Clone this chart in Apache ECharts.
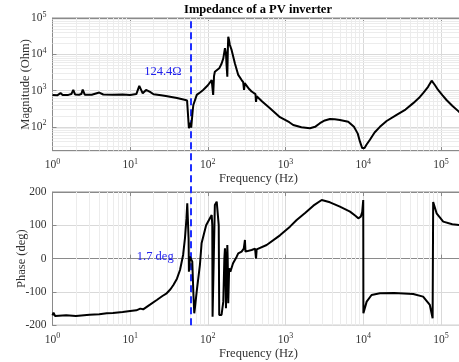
<!DOCTYPE html>
<html>
<head>
<meta charset="utf-8">
<script src="https://cdn.jsdelivr.net/npm/echarts@6/dist/echarts.min.js"></script>
<style>html,body{margin:0;padding:0;background:#fff}#c{width:459px;height:362px}</style>
</head>
<body>
<div id="c"></div>
<script>
// Frequency (Hz) and magnitude (Ohm)
const magFreq = [1,1.15,1.27,1.35,1.6,1.75,1.85,1.95,2.2,2.35,2.45,2.6,3.2,4.0,4.5,6,8,10,12,13.1,14.5,16,18,20,25,30,40,50,54,56,57,58.5,59.5,61,63,64,65,72,80,87,100,112,115,117,120,123,140,150,158,166,171,174,178,181,183,187,192,202,223,246,272,285,292,298,310,340,366,410,417,425,433,500,630,847,1117,1256,1600,2060,2400,2770,3200,3730,4300,5010,6410,7600,8500,9080,9700,10000,10400,11000,12200,14000,16400,20000,26900,35000,44000,52000,59000,68000,76000,84000,92000,105000,118000,140000,170000,200000];
const magVal  = [760,740,850,760,760,800,1050,780,770,800,1060,770,770,880,780,770,780,760,800,1340,840,1040,920,790,740,700,620,560,530,500,92,100,130,95,92,300,400,760,900,1040,1400,1950,1900,760,2500,3300,4100,5500,7700,14700,10700,5000,2400,15000,30500,25000,18000,13200,5600,2700,1950,1700,1040,1600,1430,1100,940,800,490,700,680,500,325,185,134,112,97,92,100,126,150,165,162,155,138,100,65,39,26,23,26,32,44,70,100,145,214,300,450,620,850,1250,1870,1400,1040,740,550,380,263,200];
// Frequency (Hz) and phase (deg)
const phFreq = [1,1.03,1.08,1.5,2,3,4,5,6,8,10,12,13.5,14.7,15.5,18,22,26,29.5,33,36,40,43.8,48,50.7,53,54.3,55,56.5,57,58,58.8,61,63,65,66.8,68,71.8,79,83,95,112,114,115,117,123,130,136,138,140,150,158,163,166,168,171,174,178,180,183,188,195,211,235,246,272,290,300,305,366,405,417,425,433,571,847,1140,1390,1800,2280,2920,3730,5010,6760,8000,8630,9300,9700,10000,10050,11070,12800,16400,25000,44000,59000,72000,78200,79500,88000,107000,140000,200000];
const phVal  = [-170,-162,-172,-170,-172,-168,-167,-164,-163,-160,-157,-155,-150,-152,-147,-138,-124,-112,-104,-92,-79,-60,-34,11,61,120,166,160,60,-39,-20,6,2,-9,-100,-164,-150,-99,-19,46,100,131,100,-174,-174,161,171,166,100,-169,-169,-129,0,31,0,-149,-50,41,0,-134,-29,-39,-14,6,16,21,30,56,21,26,30,1,28,26,41,70,96,116,138,159,176,169,156,141,128,121,126,140,176,-164,-129,-109,-104,-103,-106,-114,-139,-179,170,136,111,103,100];
const xTicks = [1,10,100,1000,10000,100000];
const magTicks = [100,1000,10000,100000];
const phTicks = [-200,-100,0,100,200];
const markFreq = 60;
const magNote = '124.4Ω', magNoteY = 3250;
const phNote = '1.7 deg', phNoteY = 6;

const FONT = 'Liberation Serif';
const xmin = 1, xmax = 200000, ymin = 22, ymax = 100000;
const pairs = (a,b) => a.map((v,i)=>[v,b[i]]);
const isPow = v => { const e = Math.log10(v); return Math.abs(e-Math.round(e))<1e-6; };
const powFmt = v => isPow(v) ? '{b|10}{s|' + Math.round(Math.log10(v)) + '}' : '';
const rich = {b:{fontFamily:FONT,fontSize:11.5,color:'#333'}, s:{fontFamily:FONT,fontSize:8,color:'#333',padding:[0,0,7,0]}};

const minorX = [];
for (let n=0;n<=5;n++) for (let k=2;k<=9;k++){ const v=k*Math.pow(10,n); if(v<xmax) minorX.push({xAxis:v}); }
const minorY = [];
for (let n=1;n<=4;n++) for (let k=2;k<=9;k++){ const v=k*Math.pow(10,n); if(v>ymin) minorY.push({yAxis:v}); }

const L = 52.5, W = 411.8;
const gridStyle = {show:true, borderColor:'#8a8a8a', borderWidth:1, backgroundColor:'#fff', containLabel:false, outerBoundsMode:'none'};
function xAx(gi, show){
  return {type:'log', logBase:10, gridIndex:gi, min:xmin, max:xmax, show:show,
    axisLine:{show:true,lineStyle:{color:'#8a8a8a'}},
    axisTick:{show:true,inside:true,length:4,lineStyle:{color:'#8a8a8a'}},
    axisLabel:{show:true, formatter:powFmt, rich:rich, margin:7},
    splitLine:{show:true,lineStyle:{color:'#d9d9d9',width:1}},
    name:'Frequency (Hz)', nameLocation:'middle', nameGap:22, nameMoveOverlap:false,
    nameTextStyle:{fontFamily:FONT,fontSize:12.5,color:'#333'}};
}
function topAx(gi){
  return {type:'log', logBase:10, gridIndex:gi, min:xmin, max:xmax, position:'top',
    axisLine:{show:true,lineStyle:{color:'#8a8a8a'}},
    axisTick:{show:true,inside:true,length:4,lineStyle:{color:'#8a8a8a'}},
    axisLabel:{show:false}, splitLine:{show:false}};
}
const option = {
  animation:false,
  backgroundColor:'#fff',
  title:{text:'Impedance of a PV inverter', left:253, top:-2, textAlign:'center',
    textStyle:{fontFamily:FONT,fontSize:12.5,fontWeight:'bold',color:'#000'}},
  grid:[
    Object.assign({left:L, top:18, width:W, height:132.7}, gridStyle),
    Object.assign({left:L, top:192, width:W, height:133.3}, gridStyle),
    {left:L, top:18, width:W, height:307.3, show:false, containLabel:false, outerBoundsMode:'none'}
  ],
  xAxis:[xAx(0,true), xAx(1,true),
    {type:'log', gridIndex:2, min:xmin, max:xmax, show:false},
    topAx(0), topAx(1)],
  yAxis:[
    {type:'log', logBase:10, gridIndex:0, min:ymin, max:ymax,
      axisLine:{show:true,lineStyle:{color:'#8a8a8a'}},
      axisTick:{show:true,inside:true,length:4,lineStyle:{color:'#8a8a8a'}},
      axisLabel:{formatter:powFmt, rich:rich, margin:6},
      splitLine:{show:true,lineStyle:{color:'#d9d9d9'}},
      name:'Magnitude (Ohm)', nameLocation:'middle', nameGap:20, nameMoveOverlap:false,
      nameTextStyle:{fontFamily:FONT,fontSize:12.5,color:'#333'}},
    {type:'value', gridIndex:1, min:-200, max:200, interval:100,
      axisLine:{show:true,lineStyle:{color:'#8a8a8a'}},
      axisTick:{show:true,inside:true,length:4,lineStyle:{color:'#8a8a8a'}},
      axisLabel:{fontFamily:FONT,fontSize:11.5,color:'#333',margin:6},
      splitLine:{show:true,lineStyle:{color:'#d9d9d9'}},
      name:'Phase (deg)', nameLocation:'middle', nameGap:24, nameMoveOverlap:false,
      nameTextStyle:{fontFamily:FONT,fontSize:12.5,color:'#333'}},
    {type:'value', gridIndex:2, min:0, max:1, show:false}
  ],
  series:[
    {type:'line', xAxisIndex:0, yAxisIndex:0, data:pairs(magFreq,magVal), showSymbol:false, silent:true,
      lineStyle:{opacity:0,width:0}, z:1,
      markLine:{silent:true, symbol:'none', label:{show:false}, animation:false,
        lineStyle:{color:'#ececec',width:1,type:'solid'}, data:minorX.concat(minorY)}},
    {type:'line', xAxisIndex:1, yAxisIndex:1, data:pairs(phFreq,phVal), showSymbol:false, silent:true,
      lineStyle:{opacity:0,width:0}, z:1,
      markLine:{silent:true, symbol:'none', label:{show:false}, animation:false,
        lineStyle:{color:'#ececec',width:1,type:'solid'}, data:minorX}},
    {type:'line', xAxisIndex:0, yAxisIndex:0, data:pairs(magFreq,magVal), showSymbol:false,
      lineStyle:{color:'#000',width:2}, z:5,
      markPoint:{symbol:'circle', symbolSize:0.01, data:[{coord:[markFreq,magNoteY]}],
        label:{show:true, position:'left', distance:9, formatter:magNote,
          fontFamily:FONT, fontSize:12.5, color:'#2222ee'}}},
    {type:'line', xAxisIndex:1, yAxisIndex:1, data:pairs(phFreq,phVal), showSymbol:false,
      lineStyle:{color:'#000',width:2}, z:5,
      markPoint:{symbol:'circle', symbolSize:0.01, data:[{coord:[markFreq,phNoteY]}],
        label:{show:true, position:'left', distance:17, formatter:phNote,
          fontFamily:FONT, fontSize:12.5, color:'#2222ee'}}},
    {type:'line', xAxisIndex:2, yAxisIndex:2, data:[[markFreq,0],[markFreq,1]], showSymbol:false,
      lineStyle:{opacity:0}, z:8,
      markLine:{silent:true, symbol:'none', label:{show:false},
        lineStyle:{color:'#1f2fff',width:2,type:[7,4]}, data:[{xAxis:markFreq}]}}
  ]
};
const chart = echarts.init(document.getElementById('c'), null, {renderer:'canvas'});
chart.setOption(option);
</script>
</body>
</html>
